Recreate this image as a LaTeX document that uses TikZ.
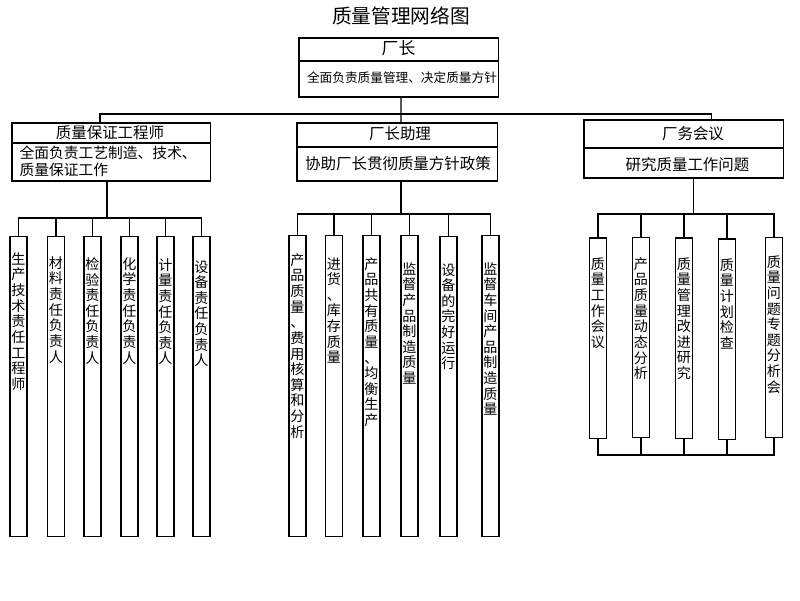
\documentclass[tikz,border=0pt]{standalone}
\usepackage{fontspec}
\setmainfont{Noto Sans CJK SC}
\usetikzlibrary{positioning}

\begin{document}
\begin{tikzpicture}[x=0.025cm, y=-0.025cm, line width=0.75pt]

    % Styles
    \tikzset{
        orgbox/.style={draw, inner sep=0pt, outer sep=0pt},
        postbox/.style={draw, inner sep=0pt, outer sep=0pt, minimum width=0.425cm},
        headtext/.style={font=\fontsize{11}{13}\selectfont, inner sep=0pt},
        dutytext/.style={font=\fontsize{11}{13}\selectfont, inner sep=0pt},
        vtext/.style={font=\fontsize{10}{11.1}\selectfont, align=center,
            inner sep=0pt, anchor=north},
    }

    \useasboundingbox (0,0) rectangle (800,600);

    % title
    \node[font=\fontsize{14}{16}\selectfont, inner sep=0pt] (title) at (401,16) {质量管理网络图};

    % director
    \node[orgbox, minimum width=4.975cm, minimum height=1.475cm] (director) at (398.5,67.5) {};
    \draw (director.west |- 0,61) -- (director.east |- 0,61);
    \node[font=\fontsize{12}{14}\selectfont, inner sep=0pt] (director-h) at (398.5,48) {厂长};
    \node[font=\fontsize{9}{11}\selectfont, inner sep=0pt] (director-d) at (402,78)
        {全面负责质量管理、决定质量方针};

    % quality assurance engineer
    \node[orgbox, minimum width=4.95cm, minimum height=1.45cm] (qeng) at (111,152) {};
    \draw (qeng.west |- 0,143) -- (qeng.east |- 0,143);
    \node[headtext] (qeng-h) at (110,133) {质量保证工程师};
    \node[dutytext, font=\fontsize{10.5}{12.2}\selectfont, align=left, anchor=west] (qeng-d)
        at (19,161.5) {全面负责工艺制造、技术、\\质量保证工作};

    % director assistant
    \node[orgbox, minimum width=5cm, minimum height=1.45cm] (assist) at (397,152) {};
    \draw (assist.west |- 0,147) -- (assist.east |- 0,147);
    \node[headtext] (assist-h) at (400,134) {厂长助理};
    \node[dutytext] (assist-d) at (398,164) {协助厂长贯彻质量方针政策};

    % factory council
    \node[orgbox, minimum width=4.975cm, minimum height=1.45cm] (council) at (683.5,149) {};
    \draw (council.west |- 0,148) -- (council.east |- 0,148);
    \node[headtext] (council-h) at (693,134) {厂务会议};
    \node[dutytext] (council-d) at (687.5,165) {研究质量工作问题};

    % main bus
    \draw ([xshift=0.0625cm]director.south) -- ([xshift=0.1cm]assist.north);
    \draw ([xshift=-0.275cm]qeng.north) -- ++(0,-9) -| ([xshift=0.7cm]council.north);

    % group 1 posts
    \node[postbox, minimum height=7.475cm] (g1a) at (18.5,386.5) {};
    \node[postbox, minimum height=7.475cm] (g1b) at (56,386.5) {};
    \node[postbox, minimum height=7.475cm] (g1c) at (92.5,386.5) {};
    \node[postbox, minimum height=7.475cm] (g1d) at (129.5,386.5) {};
    \node[postbox, minimum height=7.475cm] (g1e) at (165.5,386.5) {};
    \node[postbox, minimum height=7.475cm] (g1f) at (201.5,386.5) {};
    \node[vtext] (g1a-t) at (18.5,252) {生\\产\\技\\术\\责\\任\\工\\程\\师};
    \node[vtext] (g1b-t) at (56,256) {材\\料\\责\\任\\负\\责\\人};
    \node[vtext] (g1c-t) at (92.5,257) {检\\验\\责\\任\\负\\责\\人};
    \node[vtext] (g1d-t) at (129.5,257) {化\\学\\责\\任\\负\\责\\人};
    \node[vtext] (g1e-t) at (165.5,258) {计\\量\\责\\任\\负\\责\\人};
    \node[vtext] (g1f-t) at (201.5,260) {设\\备\\责\\任\\负\\责\\人};

    \draw ([xshift=-0.1cm]qeng.south) -- ++(0,37) coordinate (g1bus);
    \draw (g1a.north) |- (g1bus) -| (g1f.north);
    \foreach \c in {b,c,d,e}
        \draw (g1\c.north) -- (g1\c.north |- g1bus);

    % group 2 posts
    \node[postbox, minimum height=7.5cm] (g2a) at (297.5,386) {};
    \node[postbox, minimum height=7.5cm] (g2b) at (334,386) {};
    \node[postbox, minimum height=7.5cm] (g2c) at (371.5,386) {};
    \node[postbox, minimum height=7.5cm] (g2d) at (409.5,386) {};
    \node[postbox, minimum height=7.5cm] (g2e) at (448.5,386.5) {};
    \node[postbox, minimum height=7.5cm] (g2f) at (490.5,386) {};
    \node[vtext] (g2a-t) at (297.5,253) {产\\品\\质\\量\\、\\费\\用\\核\\算\\和\\分\\析};
    \node[vtext] (g2b-t) at (334,257) {进\\货\\、\\库\\存\\质\\量};
    \node[vtext] (g2c-t) at (371.5,257) {产\\品\\共\\有\\质\\量\\、\\均\\衡\\生\\产};
    \node[vtext] (g2d-t) at (409.5,262) {监\\督\\产\\品\\制\\造\\质\\量};
    \node[vtext] (g2e-t) at (448.5,263) {设\\备\\的\\完\\好\\运\\行};
    \node[vtext] (g2f-t) at (490.5,262) {监\\督\\车\\间\\产\\品\\制\\造\\质\\量};

    \draw ([xshift=0.1cm]assist.south) -- ++(0,33) coordinate (g2bus);
    \draw (g2a.north) |- (g2bus) -| (g2f.north);
    \foreach \c in {b,c,d,e}
        \draw (g2\c.north) -- (g2\c.north |- g2bus);

    % group 3 posts
    \node[postbox, minimum height=5cm] (g3a) at (598,338) {};
    \node[postbox, minimum height=5cm] (g3b) at (641,337.5) {};
    \node[postbox, minimum height=5cm] (g3c) at (684,338) {};
    \node[postbox, minimum height=5cm] (g3d) at (727,339) {};
    \node[postbox, minimum height=5cm] (g3e) at (774,337.5) {};
    \node[vtext] (g3a-t) at (598,257) {质\\量\\工\\作\\会\\议};
    \node[vtext] (g3b-t) at (641,257) {产\\品\\质\\量\\动\\态\\分\\析};
    \node[vtext] (g3c-t) at (684,257) {质\\量\\管\\理\\改\\进\\研\\究};
    \node[vtext] (g3d-t) at (727,258) {质\\量\\计\\划\\检\\查};
    \node[vtext] (g3e-t) at (774,255) {质\\量\\问\\题\\专\\题\\分\\析\\会};

    \draw ([xshift=0.26cm]council.south) -- ++(0,36) coordinate (g3bus);
    \draw (g3a.north) |- (g3bus) -| (g3e.north);
    \foreach \c in {b,c,d}
        \draw (g3\c.north) -- (g3\c.north |- g3bus);

    % bottom link of group 3
    \coordinate (g3low) at (0,455);
    \draw (g3a.south) |- (g3low -| g3e.south) -- (g3e.south);
    \foreach \c in {b,c,d}
        \draw (g3\c.south) -- (g3\c.south |- g3low);

\end{tikzpicture}
\end{document}
